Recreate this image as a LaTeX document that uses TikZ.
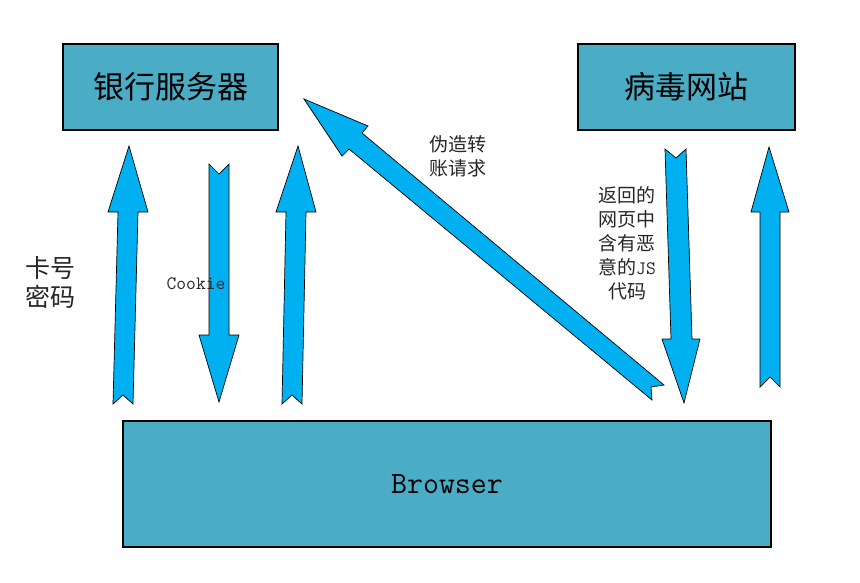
\documentclass[tikz,border=0pt]{standalone}
\usepackage{fontspec}
\newfontfamily\cjk{Noto Sans CJK SC}
\newfontfamily\mono{Latin Modern Mono}
\definecolor{boxfill}{HTML}{4BACC6}
\definecolor{arrfill}{HTML}{00B0F0}
\begin{document}
\begin{tikzpicture}[x=1pt,y=-1pt,
  box/.style={draw=black,line width=2.5pt,fill=boxfill,inner sep=0pt},
  blockarrow/.style={draw=black,line width=0.7pt,fill=arrfill,line join=miter},
  lbl/.style={align=center,inner sep=0pt,text=black!85}]
\useasboundingbox (0,0) rectangle (860,582);
% boxes
\node[box,minimum width=215pt,minimum height=86pt] (bank) at (170.5,87) {\fontsize{31}{36}\selectfont\cjk 银行服务器};
\node[box,minimum width=217pt,minimum height=86pt] (virus) at (686.5,87) {\fontsize{31}{36}\selectfont\cjk 病毒网站};
\node[box,minimum width=648pt,minimum height=126pt] (browser) at (447,484) {\fontsize{31}{36}\selectfont\mono Browser};
% block arrows
\draw[blockarrow] (113,404) -- (123,395) -- (133,404) -- (138,212) -- (148,212) -- (129,146) -- (108,212) -- (118,212) -- cycle;
\draw[blockarrow] (209,164) -- (219,174) -- (229,164) -- (229,335) -- (239,335) -- (219,402) -- (199,335) -- (209,335) -- cycle;
\draw[blockarrow] (282,404) -- (292,395) -- (302,404) -- (306,212) -- (316,212) -- (298,146) -- (276,212) -- (286,212) -- cycle;
\draw[blockarrow] (664,385) -- (651,387) -- (652,400) -- (349,149) -- (342,156) -- (304,99) -- (368,126) -- (362,133) -- cycle;
\draw[blockarrow] (665,149) -- (676,158) -- (686,149) -- (692,339) -- (700,339) -- (684,403) -- (662,339) -- (671,339) -- cycle;
\draw[blockarrow] (760,387) -- (770,377) -- (780,387) -- (780,212) -- (789,212) -- (769,147) -- (751,212) -- (760,212) -- cycle;
% labels
\node[lbl,font=\fontsize{25}{29}\selectfont\cjk] (card) at (50,282) {卡号\\密码};
\node[lbl,font=\fontsize{19}{20}\selectfont\mono] (cookie) at (196,284) {Cookie};
\node[lbl,font=\fontsize{19}{24}\selectfont\cjk] (forge) at (458,156) {伪造转\\账请求};
\node[lbl,font=\fontsize{19}{24}\selectfont\cjk] (js) at (627,243) {返回的\\网页中\\含有恶\\意的{\mono\fontsize{19}{24}\selectfont JS}\\代码};
\end{tikzpicture}
\end{document}
